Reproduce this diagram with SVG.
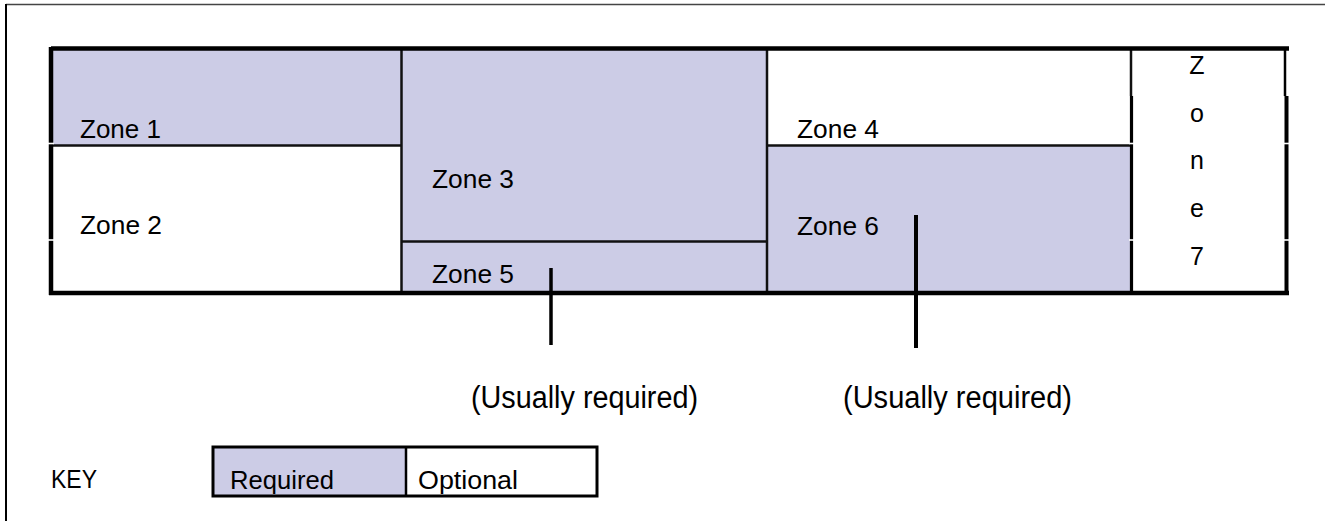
<svg xmlns="http://www.w3.org/2000/svg" width="1325" height="521" viewBox="0 0 1325 521">
<style>
.req{fill:#CCCCE6}
.opt{fill:#FFFFFF}
.t{font-family:"Liberation Sans",Arial,sans-serif;font-size:26px;fill:#000}
.lbl{font-size:31px}
.z7{font-family:"Liberation Sans",Arial,sans-serif;font-size:25px;fill:#000;text-anchor:middle}
.thin{stroke:#111;stroke-width:2.5;fill:none}
.gap{stroke:#fff;stroke-width:1.6}
</style>
<rect width="1325" height="521" fill="#fff"/>
<g id="frame">
<line x1="6" y1="4.5" x2="1325" y2="4.5" stroke="#444" stroke-width="1.5"/>
<line x1="6" y1="4" x2="6" y2="521" stroke="#000" stroke-width="2"/>
</g>
<g id="zone1"><rect class="req" x="51" y="49" width="350" height="96"/><text class="t" x="80" y="138" textLength="81" lengthAdjust="spacingAndGlyphs">Zone 1</text></g>
<g id="zone2"><rect class="opt" x="51" y="145" width="350" height="148"/><text class="t" x="80" y="234" textLength="82" lengthAdjust="spacingAndGlyphs">Zone 2</text></g>
<g id="zone3"><rect class="req" x="401" y="49" width="366" height="193"/><text class="t" x="432" y="188" textLength="82" lengthAdjust="spacingAndGlyphs">Zone 3</text></g>
<g id="zone5"><rect class="req" x="401" y="242" width="366" height="51"/><text class="t" x="432" y="283" textLength="82" lengthAdjust="spacingAndGlyphs">Zone 5</text></g>
<g id="zone4"><rect class="opt" x="767" y="49" width="364" height="96"/><text class="t" x="797" y="138" textLength="82" lengthAdjust="spacingAndGlyphs">Zone 4</text></g>
<g id="zone6"><rect class="req" x="767" y="145" width="364" height="148"/><text class="t" x="797" y="235" textLength="82" lengthAdjust="spacingAndGlyphs">Zone 6</text></g>
<g id="zone7"><rect class="opt" x="1131" y="49" width="156" height="244"/>
<text class="z7" x="1197" y="74">Z</text>
<text class="z7" x="1197" y="122">o</text>
<text class="z7" x="1197" y="169">n</text>
<text class="z7" x="1197" y="217">e</text>
<text class="z7" x="1197" y="265">7</text>
</g>
<g id="grid">
<line class="thin" x1="51" y1="145.5" x2="401" y2="145.5"/>
<line class="thin" x1="767" y1="145.5" x2="1131" y2="145.5"/>
<line class="thin" x1="401" y1="241.5" x2="767" y2="241.5"/>
<line class="thin" x1="401.5" y1="48" x2="401.5" y2="293"/>
<line class="thin" x1="767" y1="48" x2="767" y2="293"/>
<line class="thin" x1="1131" y1="48" x2="1131" y2="96"/>
<line x1="1131.5" y1="96" x2="1131.5" y2="293" stroke="#000" stroke-width="3.2"/>
<line x1="51" y1="48.5" x2="1289" y2="48.5" stroke="#000" stroke-width="4.5"/>
<line x1="49" y1="293" x2="1289" y2="293" stroke="#000" stroke-width="4.5"/>
<line x1="51" y1="47" x2="51" y2="295" stroke="#000" stroke-width="4.5"/>
<line x1="1285" y1="48" x2="1285" y2="96" stroke="#000" stroke-width="2.5"/>
<line x1="1286.5" y1="96" x2="1286.5" y2="295" stroke="#000" stroke-width="4"/>
<line class="gap" x1="48" y1="143.5" x2="54" y2="143.5"/>
<line class="gap" x1="48" y1="240" x2="54" y2="240"/>
<line class="gap" x1="1283" y1="143.5" x2="1290" y2="143.5"/>
<line class="gap" x1="1283" y1="240" x2="1290" y2="240"/>
<line class="gap" x1="1129" y1="240" x2="1134" y2="240"/>
<line class="gap" x1="1129" y1="143.5" x2="1134" y2="143.5"/>
</g>
<g id="connectors">
<line x1="551" y1="268" x2="551" y2="345" stroke="#000" stroke-width="3.5"/>
<line x1="916" y1="215" x2="916" y2="348" stroke="#000" stroke-width="4"/>
</g>
<g id="label1"><text class="t lbl" x="471" y="408" textLength="227" lengthAdjust="spacingAndGlyphs">(Usually required)</text></g>
<g id="label2"><text class="t lbl" x="843" y="408" textLength="229" lengthAdjust="spacingAndGlyphs">(Usually required)</text></g>
<g id="key">
<text class="t" x="51" y="488" textLength="46" lengthAdjust="spacingAndGlyphs">KEY</text>
<rect class="req" x="213" y="447" width="193" height="49"/>
<rect class="opt" x="406" y="447" width="191" height="49"/>
<rect x="213" y="447" width="384" height="49" fill="none" stroke="#000" stroke-width="3"/>
<line x1="406" y1="447" x2="406" y2="496" stroke="#000" stroke-width="2.5"/>
<text class="t" x="230" y="489" textLength="104" lengthAdjust="spacingAndGlyphs">Required</text>
<text class="t" x="418" y="489" textLength="100" lengthAdjust="spacingAndGlyphs">Optional</text>
</g>
</svg>
